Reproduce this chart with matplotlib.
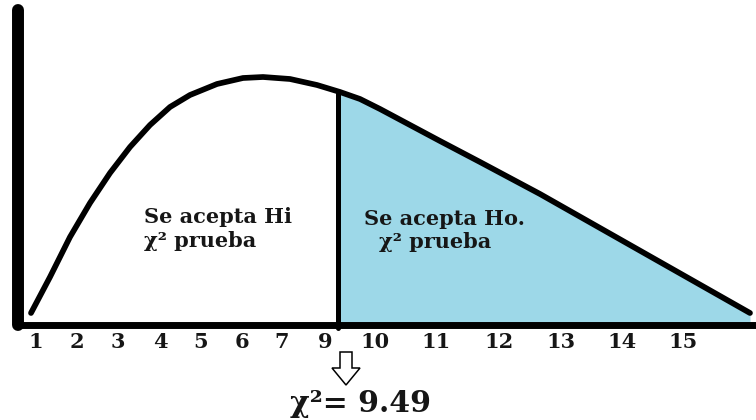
import numpy as np
import matplotlib
matplotlib.use("Agg")
import matplotlib.pyplot as plt
from matplotlib.patches import FancyArrow

# ---- data (x,y are positions along the drawn axes) ----
curve_x = [13, 32, 52, 72, 92, 112, 132, 152, 172, 199, 225, 245, 272, 299, 322,
           342, 362, 392, 422, 462, 492, 522, 552, 582, 612, 642, 672, 702, 732]
curve_y = [12, 48, 88, 122, 152, 178, 200, 218, 230, 241, 247, 248, 246, 240, 233,
           226, 216, 200, 184, 163, 147, 131, 114, 97, 80, 63, 46, 29, 12]
cut_x = 320          # position of the critical value on the drawn axis
critical_value = "9.49"
tick_labels = ["1", "2", "3", "4", "5", "6", "7", "9", "10", "11", "12", "13", "14", "15"]
tick_pos = [18, 59, 100, 142, 183, 224, 264, 307, 357, 418, 481, 543, 604, 665]
left_text = ["Se acepta Hi", "χ² prueba"]
right_text = ["Se acepta Ho.", "χ² prueba"]

FILL = "#9dd8e8"
TXT = "#161616"
SERIF = "DejaVu Serif"

fig = plt.figure(figsize=(7.56, 4.2), dpi=100)
ax = fig.add_axes([18 / 756, 95 / 420, 738 / 756, 315 / 420])
ax.set_xlim(0, 738)
ax.set_ylim(0, 315)
ax.set_facecolor("white")

for s in ("top", "right"):
    ax.spines[s].set_visible(False)
ax.spines["left"].set_linewidth(8.6)
ax.spines["bottom"].set_linewidth(5.0)
ax.spines["left"].set_color("black")
ax.spines["bottom"].set_color("black")
ax.spines["left"].set_capstyle("round")

ax.set_yticks([])
ax.set_xticks(tick_pos, labels=tick_labels)
ax.tick_params(axis="x", length=0, pad=5)
for lab in ax.get_xticklabels():
    lab.set_fontfamily(SERIF)
    lab.set_fontweight("bold")
    lab.set_fontsize(15)
    lab.set_color(TXT)

cx = np.array(curve_x, dtype=float)
cy = np.array(curve_y, dtype=float)
cut_y = float(np.interp(cut_x, cx, cy))

# shaded acceptance region
mask = cx > cut_x
fx = np.concatenate([[cut_x], cx[mask]])
fy = np.concatenate([[cut_y], cy[mask]])
ax.fill_between(fx, 0, fy, color=FILL, lw=0, zorder=1)

# curve
ax.plot(cx, cy, color="black", lw=4.1, solid_capstyle="round",
        solid_joinstyle="round", zorder=3, clip_on=False)

# cut line
ax.plot([cut_x, cut_x], [-3, cut_y], color="black", lw=3.6,
        solid_capstyle="round", zorder=4, clip_on=False)

# region texts
fs = 15
ax.text(126, 102, left_text[0], family=SERIF, weight="bold", fontsize=fs,
        color=TXT, ha="left", va="baseline", zorder=5)
ax.text(126, 78, left_text[1], family=SERIF, weight="bold", fontsize=fs,
        color=TXT, ha="left", va="baseline", zorder=5)
ax.text(346, 100, right_text[0], family=SERIF, weight="bold", fontsize=fs,
        color=TXT, ha="left", va="baseline", zorder=5)
ax.text(361, 77, right_text[1], family=SERIF, weight="bold", fontsize=fs,
        color=TXT, ha="left", va="baseline", zorder=5)

# hollow arrow pointing to critical value
arr = FancyArrow(cut_x + 8, -27, 0, -33, width=12, head_width=28,
                 head_length=17, length_includes_head=True,
                 fc="white", ec="black", lw=1.1, clip_on=False, zorder=5)
ax.add_patch(arr)

ax.text(cut_x + 22, -87, "χ²= " + critical_value, family=SERIF, weight="bold",
        fontsize=21.5, color=TXT, ha="center", va="baseline", clip_on=False)

fig.savefig("out.png", dpi=100, facecolor="white")
